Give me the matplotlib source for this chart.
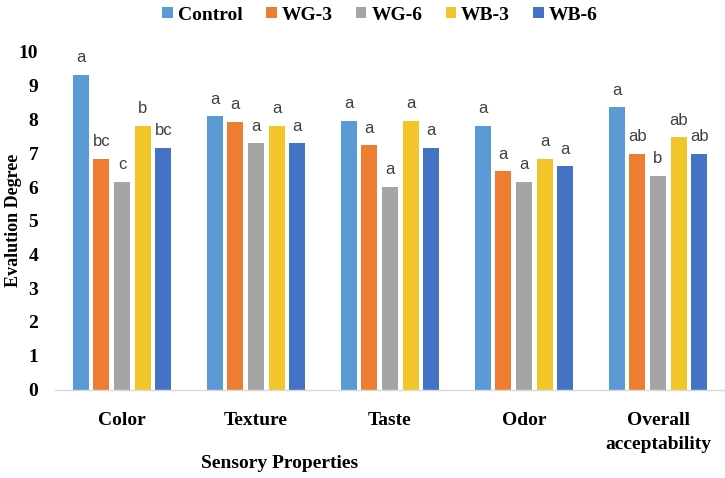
import matplotlib
matplotlib.use("Agg")
import matplotlib.pyplot as plt
import numpy as np
from matplotlib import font_manager as fm

categories = ["Color", "Texture", "Taste", "Odor", "Overall\nacceptability"]
series_names = ["Control", "WG-3", "WG-6", "WB-3", "WB-6"]
control = [9.32, 8.10, 7.96, 7.81, 8.37]
wg3 = [6.84, 7.93, 7.24, 6.47, 6.98]
wg6 = [6.15, 7.30, 6.00, 6.15, 6.33]
wb3 = [7.81, 7.81, 7.96, 6.84, 7.48]
wb6 = [7.16, 7.30, 7.16, 6.62, 6.98]
letters_control = ["a", "a", "a", "a", "a"]
letters_wg3 = ["bc", "a", "a", "a", "ab"]
letters_wg6 = ["c", "a", "a", "a", "b"]
letters_wb3 = ["b", "a", "a", "a", "ab"]
letters_wb6 = ["bc", "a", "a", "a", "ab"]
yticks = [0, 1, 2, 3, 4, 5, 6, 7, 8, 9, 10]

values = [control, wg3, wg6, wb3, wb6]
letters = [letters_control, letters_wg3, letters_wg6, letters_wb3, letters_wb6]
colors = ["#5B9BD5", "#ED7D31", "#A5A5A5", "#F2C52A", "#4472C4"]

avail = {f.name for f in fm.fontManager.ttflist}
serif = "Liberation Serif"
sans = "Liberation Sans Narrow" if "Liberation Sans Narrow" in avail else "Liberation Sans"

fig = plt.figure(figsize=(7.25, 4.78), dpi=100)
ax = fig.add_axes([55 / 725, (478 - 389.5) / 478, 670 / 725, (389.5 - 52) / 478])

x = np.arange(len(categories))
step = 0.154
width = 0.119
for i, (vals, col, name, lets) in enumerate(zip(values, colors, series_names, letters)):
    pos = x + (i - 2) * step
    ax.bar(pos, vals, width=width, color=col, label=name, zorder=2)
    for px, v, l in zip(pos, vals, lets):
        ax.annotate(l, (px, v), xytext=(0, 9), textcoords="offset points",
                    ha="center", va="baseline", fontsize=12, color="#404040",
                    family=sans, annotation_clip=False)

ax.set_xlim(-0.5, len(categories) - 0.5)
ax.set_ylim(0, 10)
ax.set_yticks(yticks)
ax.set_xticks(x)
ax.set_xticklabels(categories, fontsize=14, family=serif, fontweight="bold",
                   linespacing=1.55)
ax.set_yticklabels([str(t) for t in yticks], fontsize=14, family=serif, fontweight="bold")
ax.tick_params(axis="y", length=0, pad=12)
ax.tick_params(axis="x", length=0, pad=16)
for s in ["top", "right", "left"]:
    ax.spines[s].set_visible(False)
ax.spines["bottom"].set_color("#D9D9D9")
ax.spines["bottom"].set_linewidth(1.0)

ax.set_ylabel("Evalution Degree", fontsize=13, family=serif, fontweight="bold")
ax.yaxis.set_label_coords((22 - 55) / 670, 0.5)
fig.text(280 / 725, 1 - 463 / 478, "Sensory Properties", ha="center", va="center",
         fontsize=14, family=serif, fontweight="bold")

leg = fig.legend(loc="center", bbox_to_anchor=(380 / 725, 1 - 15 / 478), ncol=5,
                 frameon=False, handlelength=0.55, handleheight=0.55,
                 handletextpad=0.25, columnspacing=1.2,
                 prop={"family": serif, "weight": "bold", "size": 14})

fig.savefig("out.png", dpi=100)
